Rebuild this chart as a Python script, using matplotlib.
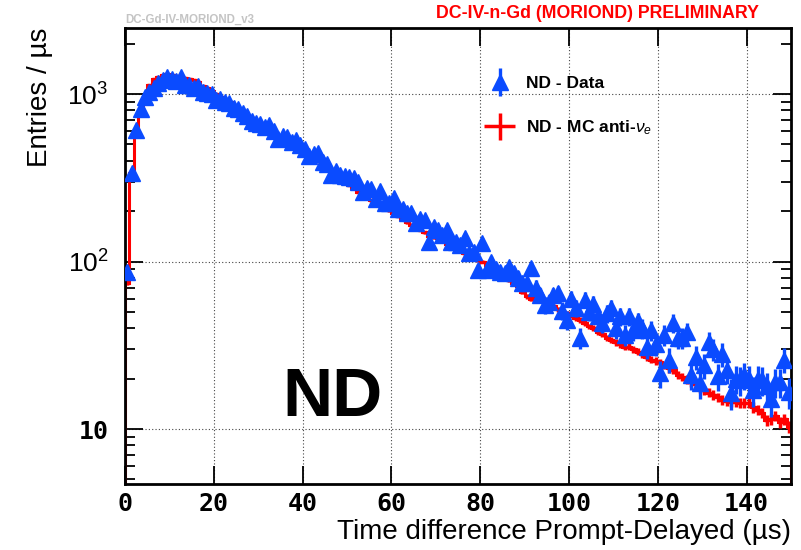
import numpy as np
import matplotlib
matplotlib.use("Agg")
import matplotlib.pyplot as plt
from matplotlib.legend_handler import HandlerErrorbar
from matplotlib.ticker import FixedLocator, LogLocator, NullLocator, NullFormatter

plt.rcParams['font.family'] = ['Liberation Sans', 'DejaVu Sans']
plt.rcParams['mathtext.fontset'] = 'custom'
plt.rcParams['mathtext.rm'] = 'Liberation Sans'
plt.rcParams['mathtext.it'] = 'Liberation Sans:italic'
plt.rcParams['mathtext.bf'] = 'Liberation Sans:bold'

# 1 us bins from 0 to 150 us
bin_edges = np.arange(0, 151, 1)

# ND data, entries / us
nd_data = [
    87, 337, 610, 813, 964, 1030, 1090, 1160, 1210, 1270,
    1230, 1190, 1270, 1140, 1130, 1090, 1110, 1030, 1010, 1000,
    925, 940, 900, 880, 830, 810, 770, 735, 690, 675,
    660, 640, 655, 600, 540, 560, 555, 520, 530, 495,
    470, 425, 440, 445, 395, 380, 330, 345, 330, 325,
    320, 315, 300, 260, 275, 270, 235, 265, 225, 225,
    240, 205, 205, 195, 195, 170, 180, 177, 131, 160,
    154, 144, 154, 131, 131, 125, 138, 112, 114, 89,
    129, 89, 99, 90, 87, 85, 93, 85, 80, 74,
    74, 91, 70, 63, 55, 57, 63, 65, 51, 45,
    60, 53, 35, 59, 50, 56, 47, 43, 49, 53,
    40, 47, 36.5, 47, 39, 44, 40, 31, 39, 32,
    21.6, 36.5, 26, 43, 35, 35, 38, 21, 27, 18.8,
    24, 33, 30, 20.7, 28, 22.5, 16.4, 20, 19.6, 21,
    20, 17, 20, 19.6, 18, 15.2, 19, 19, 26, 16.6,
]

# ND MC anti-nu_e prediction, entries / us
nd_mc = [
    75, 337, 596, 800, 946, 1130, 1224, 1268, 1300, 1310,
    1300, 1290, 1280, 1250, 1230, 1210, 1180, 1120, 1080, 1040,
    1000, 960, 930, 900, 860, 820, 780, 750, 720, 690,
    670, 650, 620, 590, 565, 545, 530, 510, 490, 470,
    455, 440, 420, 400, 380, 360, 345, 330, 315, 300,
    287, 275, 262, 250, 240, 232, 225, 215, 210, 202,
    195, 188, 180, 172, 166, 160, 155, 150, 143, 140,
    138, 133, 128, 124, 120, 116, 112, 108, 105, 102,
    100, 96, 93, 90, 84, 82, 78, 75, 71, 66,
    62, 60, 63, 61, 58, 56, 54, 52, 50, 49,
    48, 46, 45, 43, 41, 40, 38, 37, 35, 34,
    33, 32, 31, 31, 30, 29, 28, 27, 26, 25.5,
    25, 24, 23, 22.5, 21, 20.5, 19.8, 19, 18.5, 17.5,
    17, 16.5, 16, 15.5, 15, 14.8, 14.6, 14.5, 14.4, 14.3,
    14.4, 13.5, 13, 12.5, 11.3, 11.5, 12, 11, 11.5, 10.3,
]

x_ticks = [0, 20, 40, 60, 80, 100, 120, 140]
y_ticks = [10, 100, 1000]
y_tick_labels = ['10', '$10^{2}$', '$10^{3}$']

BLUE = '#0a4bff'
RED = '#ff0000'

data = np.array(nd_data, dtype=float)
mc = np.array(nd_mc, dtype=float)
centers = 0.5 * (bin_edges[:-1] + bin_edges[1:])
# statistical errors (effective counts per bin)
data_err = 0.85 * np.sqrt(data)
mc_err = np.sqrt(mc / 15.0)

fig = plt.figure(figsize=(8.01, 5.5), dpi=100)
ax = fig.add_axes([125 / 801, 66 / 550, 666 / 801, 456 / 550])

# MC histogram with error crosses
ax.stairs(mc, bin_edges, color=RED, lw=2.2, baseline=1, zorder=2)
mc_h = ax.errorbar(centers, mc, xerr=0.5, yerr=mc_err, fmt='none',
                   ecolor=RED, elinewidth=2.5, capsize=0, zorder=2)

# data points
data_h = ax.errorbar(centers, data, yerr=data_err, fmt='^', color=BLUE,
                     mec=BLUE, ms=11, elinewidth=2.4, capsize=0, zorder=3)

ax.set_yscale('log')
ax.set_xlim(0, 150)
ax.set_ylim(4.7, 2480)

ax.xaxis.set_major_locator(FixedLocator(x_ticks))
ax.xaxis.set_minor_locator(NullLocator())
ax.yaxis.set_major_locator(FixedLocator(y_ticks))
ax.yaxis.set_minor_locator(LogLocator(base=10, subs=np.arange(2, 10)))
ax.yaxis.set_minor_formatter(NullFormatter())
ax.set_yticklabels(y_tick_labels)

ax.tick_params(which='both', direction='in', top=True, right=True, width=1.3)
ax.tick_params(which='major', length=13)
ax.tick_params(which='minor', length=7)
ax.tick_params(axis='x', pad=6)
ax.tick_params(axis='y', pad=12)

for lab in ax.get_xticklabels():
    lab.set_family('DejaVu Sans Mono')
    lab.set_fontweight('bold')
    lab.set_fontsize(18)
for lab in ax.get_yticklabels():
    if lab.get_text() == '10':
        lab.set_family('DejaVu Sans Mono')
        lab.set_fontweight('bold')
        lab.set_fontsize(18)
    else:
        lab.set_fontsize(19)

ax.grid(True, which='major', color='#444444', lw=0.8, ls=(0, (1, 2)))
for s in ax.spines.values():
    s.set_linewidth(2)

ax.set_xlabel('Time difference Prompt-Delayed (\u00b5s)', fontsize=20,
              loc='right', labelpad=2)
ax.set_ylabel('Entries / \u00b5s', fontsize=20, loc='top', labelpad=10)

ax.text(0.311, 0.188, 'ND', transform=ax.transAxes, fontsize=50,
        fontweight='bold', ha='center', va='center')

leg = ax.legend([data_h, mc_h], ['ND - Data', r'ND - MC anti-$\nu_{e}$'],
                loc='upper left', bbox_to_anchor=(0.513, 0.93), frameon=False,
                prop={'weight': 'bold', 'size': 12.5}, handlelength=2.0,
                handletextpad=0.5, labelspacing=1.6,
                handler_map={type(data_h): HandlerErrorbar(xerr_size=0.9,
                                                           yerr_size=0.8)})

fig.text(125 / 801, 1 - 20 / 550, 'DC-Gd-IV-MORIOND_v3', color='#c4c4c4',
         fontsize=8.3, fontweight='bold', va='center', ha='left')
fig.text(597 / 801, 1 - 13 / 550, 'DC-IV-n-Gd (MORIOND) PRELIMINARY',
         color=RED, fontsize=12.8, fontweight='bold', va='center', ha='center')

fig.savefig('out.png', dpi=100)
